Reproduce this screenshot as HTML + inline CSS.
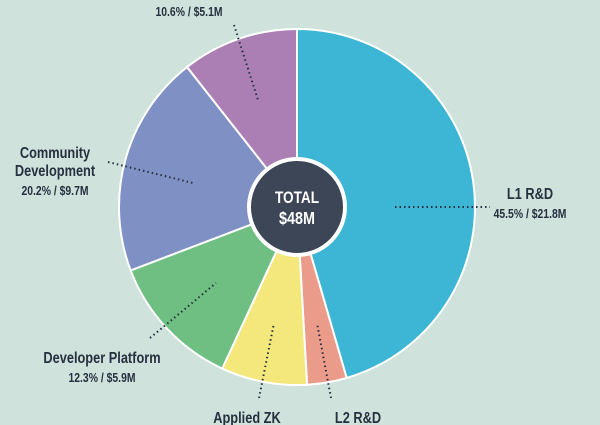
<!DOCTYPE html>
<html><head><meta charset="utf-8"><style>
body{margin:0;background:#cfe2dc;}
svg{display:block;font-family:"Liberation Sans",sans-serif;}
.l{font-weight:bold;font-size:16px;fill:#26303f;}
.v{font-weight:bold;font-size:13px;fill:#26303f;}
</style></head><body>
<svg width="600" height="425">
<rect width="600" height="425" fill="#cfe2dc"/>
<g id="slices"></g>
<g id="labels"></g>
<circle cx="297" cy="207" r="48" fill="#3c4657" stroke="#fff" stroke-width="4"/>
<text x="297" y="203" text-anchor="middle" class="l" style="fill:#fff;font-size:17px" transform="translate(297 0) scale(0.8 1) translate(-297 0)">TOTAL</text>
<text x="297" y="224" text-anchor="middle" class="l" style="fill:#fff;font-size:18px" transform="translate(297 0) scale(0.8 1) translate(-297 0)">$48M</text>
</svg>
<script>
const categories=["L1 R&D","L2 R&D","Applied ZK","Developer Platform","Community Development","Other"];
const percents=[45.5,3.6,7.8,12.3,20.2,10.6];
const colors=["#3db6d5","#ea9b8a","#f4e77c","#6fbf82","#7f90c4","#ab7fb4"];
const cx=297,cy=207,R=178;
const NS="http://www.w3.org/2000/svg";
const g=document.getElementById('slices');
function pt(a,r){return [cx+r*Math.sin(a),cy-r*Math.cos(a)];}
let acc=0;
percents.forEach((p,i)=>{
  const a0=acc/100*2*Math.PI;acc+=p;const a1=acc/100*2*Math.PI;
  const [x0,y0]=pt(a0,R),[x1,y1]=pt(a1,R);
  const path=document.createElementNS(NS,'path');
  path.setAttribute('d',`M${cx},${cy}L${x0},${y0}A${R},${R} 0 ${a1-a0>Math.PI?1:0} 1 ${x1},${y1}Z`);
  path.setAttribute('fill',colors[i]);path.setAttribute('stroke','#fff');path.setAttribute('stroke-width','2');
  
  
  g.appendChild(path);
});
const lg=document.getElementById('labels');
const leaders=[[395,207,490,207],[331,398,317,323],[259,398,274,323],[150,338,216,283],[108,162,193,183],[234,25,258,100]];
leaders.forEach(l=>{
  const ln=document.createElementNS(NS,'line');
  ln.setAttribute('x1',l[0]);ln.setAttribute('y1',l[1]);ln.setAttribute('x2',l[2]);ln.setAttribute('y2',l[3]);
  ln.setAttribute('stroke','#26303f');ln.setAttribute('stroke-width','2');ln.setAttribute('stroke-dasharray','1.5 3');
  
  
  lg.appendChild(ln);
});
const texts=[["L1 R&D",530,199,'l'],["45.5% / $21.8M",530,218,'v'],["L2 R&D",358,423,'l'],["Applied ZK",247,423,'l'],
["Developer Platform",102,363,'l'],["12.3% / $5.9M",102,382,'v'],["Community",55,158,'l'],["Development",55,176,'l'],["20.2% / $9.7M",55,195,'v'],["10.6% / $5.1M",189,16,'v']];
texts.forEach(t=>{
  const e=document.createElementNS(NS,'text');
  e.textContent=t[0];e.setAttribute('x',t[1]);e.setAttribute('y',t[2]);e.setAttribute('class',t[3]);
  e.setAttribute('text-anchor','middle');
  e.setAttribute('transform',`translate(${t[1]} 0) scale(0.8 1) translate(${-t[1]} 0)`);
  
  
  lg.appendChild(e);
});
</script>
</body></html>
